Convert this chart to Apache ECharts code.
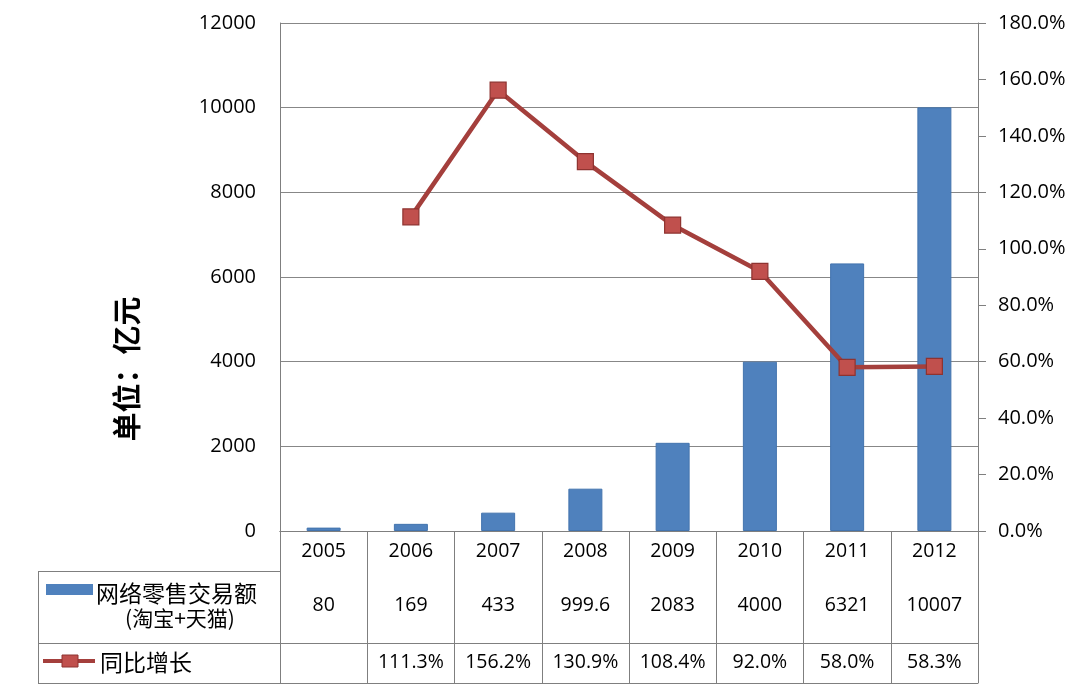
<!DOCTYPE html>
<html><head><meta charset="utf-8">
<script src="https://cdn.jsdelivr.net/npm/echarts@6/dist/echarts.min.js"></script>
<style>html,body{margin:0;padding:0;background:#fff}#c{width:1088px;height:694px}</style>
</head><body><div id="c"></div>
<script>
const years = ['2005','2006','2007','2008','2009','2010','2011','2012'];
const sales = [80, 169, 433, 999.6, 2083, 4000, 6321, 10007];
const salesText = ['80','169','433','999.6','2083','4000','6321','10007'];
const growth = [null, 111.3, 156.2, 130.9, 108.4, 92.0, 58.0, 58.3];
const growthText = ['', '111.3%', '156.2%', '130.9%', '108.4%', '92.0%', '58.0%', '58.3%'];
const seriesNames = ['网络零售交易额', '(淘宝+天猫)', '同比增长'];
const yName = '单位：亿元';

const FONT = '"Open Sans","Noto Sans CJK SC",sans-serif';
const CJK = '"Noto Sans CJK SC",sans-serif';
const GRAY = '#7f7f7f';
const TXT = '#000';
const chart = echarts.init(document.getElementById('c'));
const L = 280, R = 978, T = 23, B = 531;
const rowLine = (offset) => ({
  type: 'category', data: years, position: 'bottom', offset: offset, gridIndex: 0,
  axisLine: {show: true, lineStyle: {color: GRAY, width: 1}},
  axisTick: {show: false}, axisLabel: {show: false}, splitLine: {show: false}
});
chart.setOption({
  backgroundColor: '#ffffff',
  animation: false,
  grid: {left: L, right: 1088 - R, top: T, bottom: 694 - B, containLabel: false},
  xAxis: [
    {type: 'category', data: years, position: 'bottom',
     axisLine: {show: true, lineStyle: {color: GRAY}},
     axisTick: {show: true, length: 152, inside: false, lineStyle: {color: GRAY}},
     axisLabel: {color: TXT, fontSize: 19.5, fontFamily: FONT, margin: 11}},
    Object.assign(rowLine(40), {data: salesText, axisLabel: {show: true, color: TXT, fontSize: 19.5, fontFamily: FONT, margin: 25}}),
    Object.assign(rowLine(112), {data: growthText, axisLabel: {show: true, color: TXT, fontSize: 19.5, fontFamily: FONT, margin: 10}}),
    rowLine(152)
  ],
  yAxis: [
    {type: 'value', min: 0, max: 12000, interval: 2000, position: 'left',
     axisLine: {show: true, lineStyle: {color: GRAY}}, axisTick: {show: false},
     axisLabel: {color: TXT, fontSize: 20, fontFamily: FONT, margin: 24, formatter: v => String(v)},
     splitLine: {show: true, lineStyle: {color: '#878787', width: 1}}},
    {type: 'value', min: 0, max: 180, interval: 20, position: 'right',
     axisLine: {show: true, lineStyle: {color: GRAY}},
     axisTick: {show: true, length: 8, lineStyle: {color: GRAY}},
     axisLabel: {color: TXT, fontSize: 20, fontFamily: FONT, margin: 20,
                 formatter: v => v.toFixed(1) + '%'},
     splitLine: {show: false}}
  ],
  series: [
    {name: seriesNames[0], type: 'bar', data: sales, xAxisIndex: 0, yAxisIndex: 0,
     barWidth: 34, itemStyle: {color: '#4F81BD', borderColor: '#4374AE', borderWidth: 1}},
    {name: seriesNames[2], type: 'line', data: growth, xAxisIndex: 0, yAxisIndex: 1,
     connectNulls: false, symbol: 'rect', symbolSize: 16, z: 5,
     lineStyle: {color: '#A43F3C', width: 4.5},
     itemStyle: {color: '#C0504D', borderColor: '#8E3330', borderWidth: 1.2}}
  ],
  graphic: [
    {type: 'line', shape: {x1: 38, y1: 571.5, x2: L, y2: 571.5}, style: {stroke: GRAY, lineWidth: 1}},
    {type: 'line', shape: {x1: 38, y1: 643.5, x2: L, y2: 643.5}, style: {stroke: GRAY, lineWidth: 1}},
    {type: 'line', shape: {x1: 38, y1: 683.5, x2: L, y2: 683.5}, style: {stroke: GRAY, lineWidth: 1}},
    {type: 'line', shape: {x1: 38.5, y1: 571, x2: 38.5, y2: 684}, style: {stroke: GRAY, lineWidth: 1}},
    {type: 'rect', shape: {x: 46, y: 584, width: 47, height: 11}, style: {fill: '#4F81BD'}},
    {type: 'text', x: 96, y: 593, style: {text: seriesNames[0], fontSize: 23, fontFamily: CJK, fill: TXT, verticalAlign: 'middle'}},
    {type: 'text', x: 180, y: 618, style: {text: seriesNames[1], fontSize: 21, fontFamily: CJK, fill: TXT, align: 'center', verticalAlign: 'middle'}},
    {type: 'line', shape: {x1: 43, y1: 661, x2: 95, y2: 661}, style: {stroke: '#A43F3C', lineWidth: 4}},
    {type: 'rect', shape: {x: 62, y: 655, width: 16, height: 12}, style: {fill: '#C0504D', stroke: '#8E3330', lineWidth: 1}},
    {type: 'text', x: 100, y: 662, style: {text: seriesNames[2], fontSize: 23, fontFamily: CJK, fill: TXT, verticalAlign: 'middle'}},
    {type: 'text', x: 127, y: 369, rotation: Math.PI / 2,
     style: {text: yName, fontSize: 29, fontWeight: 'bold', fontFamily: CJK, fill: TXT, align: 'center', verticalAlign: 'middle'}}
  ]
});
</script></body></html>
